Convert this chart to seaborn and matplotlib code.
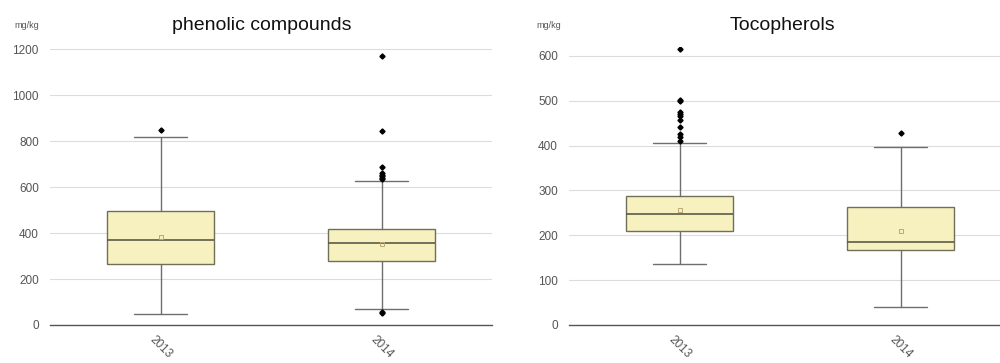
import matplotlib
matplotlib.use("Agg")
import matplotlib.pyplot as plt
import seaborn as sns

# values (mg/kg)
years = ["2013", "2014"]

phen_q1 = [266, 277]
phen_med = [370, 359]
phen_q3 = [496, 418]
phen_mean = [383, 353]
phen_whislo = [48, 70]
phen_whishi = [819, 625]
phen_fliers = [[849],
               [1172, 847, 686, 662, 655, 648, 642, 637, 57, 53]]

toco_q1 = [210, 168]
toco_med = [248, 184]
toco_q3 = [288, 262]
toco_mean = [257, 210]
toco_whislo = [136, 41]
toco_whishi = [406, 397]
toco_fliers = [[616, 502, 499, 475, 470, 466, 457, 442, 426, 419, 410],
               [427]]

sns.set_style("white")
plt.rcParams["font.family"] = ["Liberation Sans", "DejaVu Sans"]

BOX_FACE = "#f6f1bf"
BOX_EDGE = "#707058"
LINE = "#6e6e6e"
TICK = "#555555"


def make_stats(q1, med, q3, mean, lo, hi, fliers):
    stats = []
    for i, y in enumerate(years):
        stats.append({"label": y, "q1": q1[i], "med": med[i], "q3": q3[i],
                      "mean": mean[i], "whislo": lo[i], "whishi": hi[i],
                      "fliers": fliers[i]})
    return stats


def draw_panel(ax, stats, ymax, ytop, step):
    ax.bxp(stats, positions=[0, 1], widths=0.485, patch_artist=True,
           showmeans=True, showfliers=True,
           boxprops=dict(facecolor=BOX_FACE, edgecolor=BOX_EDGE, linewidth=1.0),
           medianprops=dict(color="#5a5a48", linewidth=1.2),
           whiskerprops=dict(color=LINE, linewidth=1.0),
           capprops=dict(color=LINE, linewidth=1.0),
           capwidths=0.24,
           meanprops=dict(marker="s", markersize=3.5, markerfacecolor="none",
                          markeredgecolor="#b8a878", markeredgewidth=0.7),
           flierprops=dict(marker="D", markersize=2.6, markerfacecolor="black",
                           markeredgecolor="black"))
    ax.set_xlim(-0.5, 1.5)
    ax.set_ylim(0, ytop)
    ax.set_yticks(range(0, ymax + 1, step))
    ax.yaxis.grid(True, color="#dcdcdc", linewidth=0.8)
    ax.set_axisbelow(True)
    for s in ["left", "right", "top"]:
        ax.spines[s].set_visible(False)
    ax.spines["bottom"].set_color("#555555")
    ax.spines["bottom"].set_linewidth(1.0)
    ax.tick_params(axis="y", length=0, labelsize=8.5, labelcolor=TICK, pad=8)
    # reference cuts these off at the bottom edge; keep them just inside
    ax.tick_params(axis="x", length=5, color="#777777", labelsize=8.5,
                   labelcolor=TICK, pad=1)
    ax.set_xticks([0, 1])
    ax.set_xticklabels(years, rotation=-45, ha="center")


fig = plt.figure(figsize=(10, 3.63), dpi=100)
ax1 = fig.add_axes([0.050, 0.1047, 0.442, 0.759])
ax2 = fig.add_axes([0.569, 0.1047, 0.442, 0.766])

draw_panel(ax1, make_stats(phen_q1, phen_med, phen_q3, phen_mean,
                           phen_whislo, phen_whishi, phen_fliers), 1200, 1200, 200)
draw_panel(ax2, make_stats(toco_q1, toco_med, toco_q3, toco_mean,
                           toco_whislo, toco_whishi, toco_fliers), 600, 620, 100)

fig.text(0.262, 0.931, "phenolic compounds", ha="center", va="center",
         fontsize=14, color="#111111")
fig.text(0.782, 0.931, "Tocopherols", ha="center", va="center",
         fontsize=14, color="#111111")
fig.text(0.014, 0.931, "mg/kg", ha="left", va="center", fontsize=6.5,
         color="#555555")
fig.text(0.536, 0.931, "mg/kg", ha="left", va="center", fontsize=6.5,
         color="#555555")

fig.savefig("out.png", dpi=100)
